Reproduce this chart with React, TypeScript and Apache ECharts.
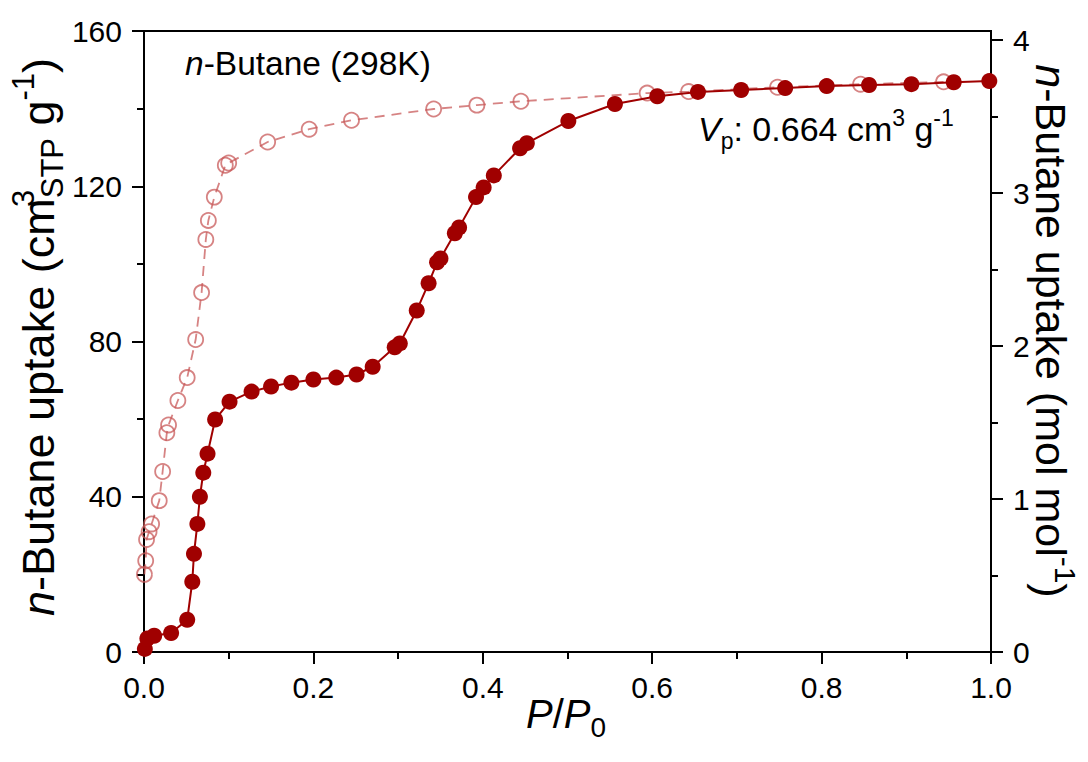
import React, { useEffect, useRef } from "react";
import * as echarts from "echarts";

// Adsorption branch (filled symbols, solid line)
const adsP = [0.001, 0.004, 0.012, 0.032, 0.051, 0.057, 0.059, 0.063, 0.066, 0.070, 0.075, 0.084, 0.101, 0.127, 0.150, 0.174, 0.200, 0.227, 0.251, 0.270, 0.296, 0.302, 0.322, 0.336, 0.346, 0.350, 0.367, 0.372, 0.392, 0.401, 0.413, 0.444, 0.452, 0.501, 0.556, 0.606, 0.654, 0.705, 0.757, 0.806, 0.856, 0.906, 0.956, 0.998];
const adsV = [0.8, 3.5, 4.2, 4.9, 8.3, 18.1, 25.3, 33.0, 40.0, 46.2, 51.1, 59.9, 64.5, 67.1, 68.4, 69.4, 70.2, 70.7, 71.5, 73.5, 78.5, 79.5, 88.0, 95.0, 100.4, 101.4, 107.9, 109.4, 117.2, 119.7, 122.8, 129.8, 131.1, 136.8, 141.2, 143.2, 144.3, 144.8, 145.3, 145.8, 146.1, 146.3, 146.8, 147.1];

// Second branch (open symbols, dashed line)
const desP = [0.0005, 0.002, 0.003, 0.006, 0.009, 0.018, 0.022, 0.027, 0.029, 0.040, 0.051, 0.061, 0.068, 0.073, 0.076, 0.083, 0.096, 0.100, 0.146, 0.195, 0.245, 0.342, 0.393, 0.445, 0.594, 0.643, 0.748, 0.846, 0.944];
const desV = [20.0, 23.5, 29.0, 31.0, 33.0, 39.0, 46.5, 56.5, 58.5, 64.8, 70.7, 80.5, 92.6, 106.3, 111.2, 117.2, 125.4, 126.0, 131.4, 134.7, 137.0, 139.9, 140.9, 141.9, 144.0, 144.4, 145.5, 146.3, 146.9];

// Axis scales
const xRange = [0, 1, 0.2];
const yLeftRange = [0, 160, 40];
const yRightMax = 4.06;
const yRightMajor = [0, 1, 2, 3, 4];
const yRightMinor = [0.5, 1.5, 2.5, 3.5];

const FONT = "'Liberation Sans', Arial, Helvetica, sans-serif";
const SOLID = "#a00000";
const OPEN = "rgba(200, 90, 90, 0.75)";

export default function App() {
  const ref = useRef<HTMLDivElement>(null);

  useEffect(() => {
    if (!ref.current) return;
    const chart = echarts.init(ref.current, undefined, { renderer: "svg" });

    const titleRich = (fs: number, small: number, lh: number) => ({
      i: { fontSize: fs, fontStyle: "italic", fontFamily: FONT, lineHeight: lh, fill: "#000" },
      r: { fontSize: fs, fontFamily: FONT, lineHeight: lh, fill: "#000" },
      sup: { fontSize: small, fontFamily: FONT, lineHeight: small, verticalAlign: "top", fill: "#000" },
      supz: { fontSize: small, fontFamily: FONT, lineHeight: small, verticalAlign: "top", width: 0.1, fill: "#000" },
      sub: { fontSize: small, fontFamily: FONT, lineHeight: small, verticalAlign: "bottom", fill: "#000" },
    });

    const axisCommon = {
      axisLine: { show: true, onZero: false, lineStyle: { color: "#000", width: 2 } },
      axisTick: { show: true, inside: false, length: 12, lineStyle: { color: "#000", width: 2 } },
      minorTick: { show: true, splitNumber: 2, length: 7, lineStyle: { color: "#000", width: 2 } },
      splitLine: { show: false },
      minorSplitLine: { show: false },
    };
    const gridBox = { left: 144, right: 97, top: 31, bottom: 110 };

    chart.setOption({
      animation: false,
      backgroundColor: "#fff",
      grid: [
        { ...gridBox, show: true, borderColor: "#000", borderWidth: 2, backgroundColor: "transparent" },
        { ...gridBox, show: false },
      ],
      xAxis: [
        {
          type: "value",
          gridIndex: 0,
          min: xRange[0],
          max: xRange[1],
          interval: xRange[2],
          ...axisCommon,
          axisLabel: { fontSize: 30, fontFamily: FONT, color: "#000", margin: 20, formatter: (v: number) => v.toFixed(1) },
        },
        {
          type: "value",
          gridIndex: 1,
          min: xRange[0],
          max: xRange[1],
          show: false,
        },
      ],
      yAxis: [
        {
          type: "value",
          gridIndex: 0,
          position: "left",
          min: yLeftRange[0],
          max: yLeftRange[1],
          interval: yLeftRange[2],
          ...axisCommon,
          axisLabel: { fontSize: 30, fontFamily: FONT, color: "#000", margin: 22 },
        },
        {
          type: "value",
          gridIndex: 0,
          position: "right",
          min: 0,
          max: yRightMax,
          axisLine: { show: true, onZero: false, lineStyle: { color: "#000", width: 2 } },
          axisTick: { show: true, inside: false, length: 12, customValues: yRightMajor, lineStyle: { color: "#000", width: 2 } },
          minorTick: { show: false },
          splitLine: { show: false },
          axisLabel: { fontSize: 30, fontFamily: FONT, color: "#000", margin: 22, customValues: yRightMajor },
        },
        {
          type: "value",
          gridIndex: 1,
          position: "right",
          min: 0,
          max: yRightMax,
          axisLine: { show: false, onZero: false },
          axisTick: { show: true, inside: false, length: 7, customValues: yRightMinor, lineStyle: { color: "#000", width: 2 } },
          minorTick: { show: false },
          splitLine: { show: false },
          axisLabel: { show: false },
        },
      ],
      series: [
        {
          type: "line",
          name: "open",
          xAxisIndex: 0,
          yAxisIndex: 0,
          data: desP.map((p, k) => [p, desV[k]]),
          symbol: "circle",
          symbolSize: 15,
          showAllSymbol: true,
          itemStyle: { color: "rgba(255,255,255,0)", borderColor: OPEN, borderWidth: 1.8 },
          lineStyle: { color: OPEN, width: 1.8, type: [10, 7] },
          z: 2,
        },
        {
          type: "line",
          name: "filled",
          xAxisIndex: 0,
          yAxisIndex: 0,
          data: adsP.map((p, k) => [p, adsV[k]]),
          symbol: "circle",
          symbolSize: 16,
          showAllSymbol: true,
          itemStyle: { color: SOLID, borderWidth: 0 },
          lineStyle: { color: SOLID, width: 2 },
          z: 3,
        },
      ],
      graphic: [
        {
          type: "text",
          x: 185,
          y: 63,
          style: {
            text: "{i|n}{r|-Butane (298K)}",
            rich: titleRich(33.5, 23, 40),
            align: "left",
            verticalAlign: "middle",
          },
        },
        {
          type: "text",
          x: 698,
          y: 129,
          style: {
            text: "{i|V}{sub|p}{r|: 0.664 cm}{sup|3}{r| g}{sup|-1}",
            rich: titleRich(34, 23, 46),
            align: "left",
            verticalAlign: "middle",
          },
        },
        {
          type: "text",
          x: 566,
          y: 714,
          style: {
            text: "{i|P}{r|/}{i|P}{sub|0}",
            rich: titleRich(40, 28, 54),
            align: "center",
            verticalAlign: "middle",
          },
        },
        {
          type: "text",
          x: 38,
          y: 337,
          rotation: Math.PI / 2,
          style: {
            text: "{i|n}{r|-Butane uptake (cm}{supz|3}{sub|STP}{r| g}{sup|-1}{r|)}",
            rich: titleRich(45, 31, 60),
            align: "center",
            verticalAlign: "middle",
          },
        },
        {
          type: "text",
          x: 1051,
          y: 331,
          rotation: -Math.PI / 2,
          style: {
            text: "{i|n}{r|-Butane uptake (mol mol}{sup|-1}{r|)}",
            rich: titleRich(43, 30, 58),
            align: "center",
            verticalAlign: "middle",
          },
        },
      ],
    });

    return () => chart.dispose();
  }, []);

  return <div ref={ref} style={{ position: "fixed", left: 0, top: 0, width: 1088, height: 762 }} />;
}
